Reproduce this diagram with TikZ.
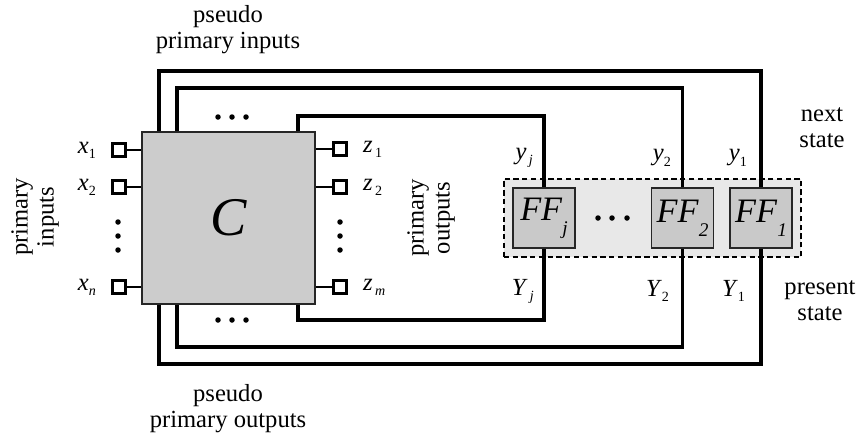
\documentclass[tikz,border=0pt]{standalone}
\usepackage{fontspec}
\setmainfont{Liberation Serif}
\usetikzlibrary{positioning,fit,backgrounds}
\newcommand{\sig}[2]{\textit{#1}\raisebox{-0.45ex}{\footnotesize #2}}
\newcommand{\ffname}[1]{\textit{FF}\raisebox{-0.9ex}{\fontsize{11}{11}\selectfont\itshape #1}}
\tikzset{
  wire/.style={line width=2pt},
  lead/.style={line width=1.5pt},
  pin/.style={draw, line width=1.7pt, minimum size=0.26cm, inner sep=0pt, fill=white},
  ffbox/.style={draw=black!85, fill=black!21, line width=0.9pt, minimum width=1.24cm,
              minimum height=1.2cm, inner sep=0pt, font=\fontsize{19.5}{19.5}\selectfont},
  lbl/.style={font=\fontsize{14}{14.8}\selectfont, align=center, inner sep=1pt},
}

\begin{document}
\begin{tikzpicture}[x=0.02cm,y=-0.02cm]
  \useasboundingbox (0,0) rectangle (858,437);
  % combinational part
  \node[draw=black!85, fill=black!20, line width=1pt, minimum width=3.46cm, minimum height=3.44cm,
        font=\fontsize{31}{31}\selectfont\itshape] (C) at (228.5,218) {C};
  % flip-flops
  \node[ffbox] (ffj) at (544,218) {\ffname{j}};
  \node[ffbox] (ff2) at (682.5,218) {\ffname{2}};
  \node[ffbox] (ff1) at (761,218) {\ffname{1}};
  \begin{scope}[on background layer]
    \node[draw, dashed, dash pattern=on 3pt off 2pt, line width=1.1pt, fill=black!9,
          fit=(ffj)(ff1), inner sep=0.17cm] (reg) {};
  \end{scope}
  \foreach \x in {598,612,627} \fill (\x,218) circle (0.055cm);
  % feedback loops
  \coordinate (top1) at (159,71);  \coordinate (bot1) at (159,364);
  \coordinate (top2) at (177,88);  \coordinate (bot2) at (177,347);
  \coordinate (top3) at (298,116); \coordinate (bot3) at (298,320);
  \draw[wire] (C.north -| top1) -- (top1) -| (ff1.north);
  \draw[wire] (ff1.south) |- (bot1) -- (C.south -| bot1);
  \draw[wire] (C.north -| top2) -- (top2) -| (ff2.north);
  \draw[wire] (ff2.south) |- (bot2) -- (C.south -| bot2);
  \draw[wire] (C.north -| top3) -- (top3) -| (ffj.north);
  \draw[wire] (ffj.south) |- (bot3) -- (C.south -| bot3);
  \foreach \x in {218,232,246} {
    \fill (\x,117) circle (0.055cm);
    \fill (\x,320) circle (0.055cm);
  }
  % primary inputs
  \node[pin] (px1) at (119,150) {};
  \node[pin] (px2) at (119,187) {};
  \node[pin] (pxn) at (119,287) {};
  \draw[lead] (px1.east) -- (C.west |- px1);
  \draw[lead] (px2.east) -- (C.west |- px2);
  \draw[lead] (pxn.east) -- (C.west |- pxn);
  \node[lbl, left=2.6mm of px1] (lx1) {\sig{x}{1}};
  \node[lbl, left=2.6mm of px2] (lx2) {\sig{x}{2}};
  \node[lbl, left=2.6mm of pxn] (lxn) {\sig{x}{\textit{n}}};
  \foreach \y in {222,236,250} \fill (118,\y) circle (0.055cm);
  % primary outputs
  \node[pin] (pz1) at (340,149) {};
  \node[pin] (pz2) at (340,187) {};
  \node[pin] (pzm) at (340,287) {};
  \draw[lead] (C.east |- pz1) -- (pz1.west);
  \draw[lead] (C.east |- pz2) -- (pz2.west);
  \draw[lead] (C.east |- pzm) -- (pzm.west);
  \node[lbl, right=2.6mm of pz1] (lz1) {\sig{z}{\,1}};
  \node[lbl, right=2.6mm of pz2] (lz2) {\sig{z}{\,2}};
  \node[lbl, right=2.6mm of pzm] (lzm) {\sig{z}{\,\textit{m}}};
  \foreach \y in {222,236,250} \fill (340,\y) circle (0.055cm);
  % state variables
  \node[lbl, anchor=east] (lyj) at (535,158) {\sig{y}{\,\textit{j}}};
  \node[lbl, anchor=east] (ly2) at (673,158) {\sig{y}{2}};
  \node[lbl, anchor=east] (ly1) at (749,158) {\sig{y}{1}};
  \node[lbl, anchor=east] (lYj) at (536,291) {\sig{Y}{\,\textit{j}}};
  \node[lbl, anchor=east] (lY2) at (671,291) {\sig{Y}{2}};
  \node[lbl, anchor=east] (lY1) at (747,291) {\sig{Y}{1}};
  % captions
  \node[lbl, rotate=90] (tpi) at (35,217) {primary\\inputs};
  \node[lbl, rotate=90] (tpo) at (431,218) {primary\\outputs};
  \node[lbl] (tppi) at (228,30) {pseudo\\primary inputs};
  \node[lbl] (tppo) at (228,409) {pseudo\\primary outputs};
  \node[lbl] (tns) at (822,128) {next\\state};
  \node[lbl] (tps) at (820,301) {present\\state};
\end{tikzpicture}
\end{document}
